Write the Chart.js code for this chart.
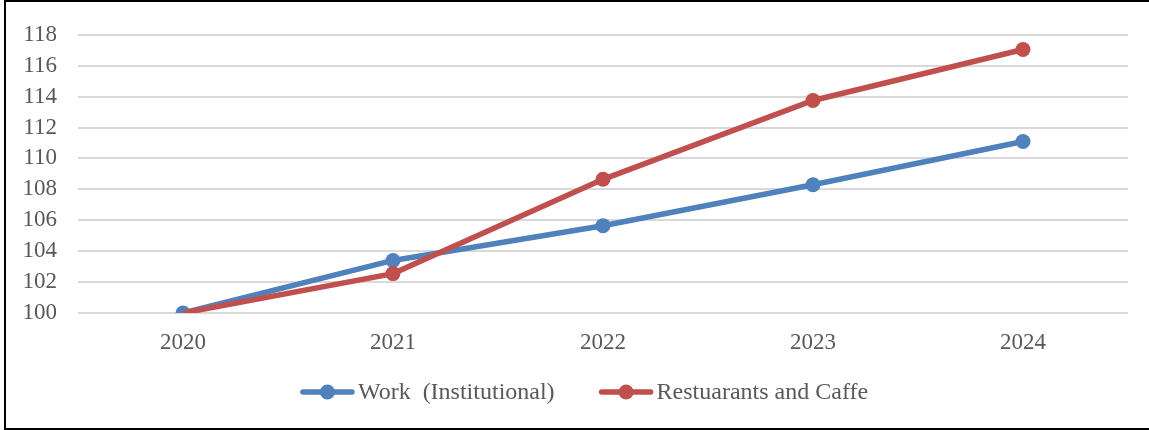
<!DOCTYPE html>
<html>
<head>
<meta charset="utf-8">
<script src="https://cdn.jsdelivr.net/npm/chart.js@4.4.1/dist/chart.umd.min.js"></script>
<style>
  html, body { margin: 0; padding: 0; background: #fff; overflow: hidden; }
  #wrap { position: relative; width: 1149px; height: 430px; }
  #frame {
    position: absolute; left: 4px; top: 0; width: 1170px; height: 430px;
    box-sizing: border-box; border: 2px solid #000; border-right: none;
    pointer-events: none;
  }
  canvas { position: absolute; left: 0; top: 0; }
</style>
</head>
<body>
<div id="wrap">
  <canvas id="myChart" width="1149" height="430"></canvas>
  <div id="frame"></div>
</div>
<script>
const years = ['2020', '2021', '2022', '2023', '2024'];
const workValues = [100, 103.4, 105.65, 108.3, 111.1];
const restaurantValues = [100, 102.55, 108.65, 113.75, 117.05];
const seriesNames = ['Work  (Institutional)', 'Restuarants and Caffe'];
const seriesColors = ['#4F81BD', '#C0504D'];

const FONT = '"Liberation Serif", "Times New Roman", serif';
const TEXT = '#595959';

// legend drawn as line + marker, like an office chart legend
const lineLegend = {
  id: 'lineLegend',
  afterDraw(chart) {
    const ctx = chart.ctx;
    const sample = 55, gap = 3, itemGap = 44, y = 392;
    ctx.save();
    ctx.font = '24px ' + FONT;
    const items = chart.data.datasets.map(ds => ({
      ds, w: sample + gap + ctx.measureText(ds.label).width
    }));
    const total = items.reduce((s, it) => s + it.w, 0) + itemGap * (items.length - 1);
    let x = 584 - total / 2;
    items.forEach(it => {
      ctx.strokeStyle = it.ds.borderColor;
      ctx.lineWidth = 5.5;
      ctx.lineCap = 'round';
      ctx.beginPath();
      ctx.moveTo(x + 3, y);
      ctx.lineTo(x + sample - 3, y);
      ctx.stroke();
      ctx.fillStyle = it.ds.borderColor;
      ctx.beginPath();
      ctx.arc(x + sample / 2, y, 7.5, 0, Math.PI * 2);
      ctx.fill();
      ctx.fillStyle = TEXT;
      ctx.textBaseline = 'middle';
      ctx.textAlign = 'left';
      ctx.fillText(it.ds.label, x + sample + gap, y + 1);
      x += it.w + itemGap;
    });
    ctx.restore();
  }
};

const ctx = document.getElementById('myChart').getContext('2d');
const myChart = new Chart(ctx, {
  type: 'line',
  data: {
    labels: years,
    datasets: [
      {
        label: seriesNames[0],
        data: workValues,
        borderColor: seriesColors[0],
        backgroundColor: seriesColors[0],
        borderWidth: 5.5,
        pointRadius: 7.5,
        pointBorderWidth: 0,
        tension: 0,
        order: 1
      },
      {
        label: seriesNames[1],
        data: restaurantValues,
        borderColor: seriesColors[1],
        backgroundColor: seriesColors[1],
        borderWidth: 5.5,
        // first marker sits under the blue one
        pointRadius: [0, 7.5, 7.5, 7.5, 7.5],
        pointBorderWidth: 0,
        tension: 0,
        order: 0
      }
    ]
  },
  options: {
    responsive: false,
    animation: false,
    layout: { padding: { top: 31, right: 21, left: 0, bottom: 0 } },
    plugins: {
      legend: { display: false },
      tooltip: { enabled: false }
    },
    scales: {
      x: {
        offset: true,
        grid: { display: false },
        border: { display: false },
        ticks: { color: TEXT, font: { family: FONT, size: 23 }, padding: 8 },
        afterFit: scale => { scale.height = 117; }
      },
      y: {
        min: 100,
        max: 118,
        ticks: { stepSize: 2, color: TEXT, font: { family: FONT, size: 23 }, padding: 21 },
        grid: { color: '#d9d9d9', lineWidth: 2, drawTicks: false },
        border: { display: false },
        afterFit: scale => { scale.width = 78; }
      }
    }
  },
  plugins: [lineLegend]
});
</script>
</body>
</html>
